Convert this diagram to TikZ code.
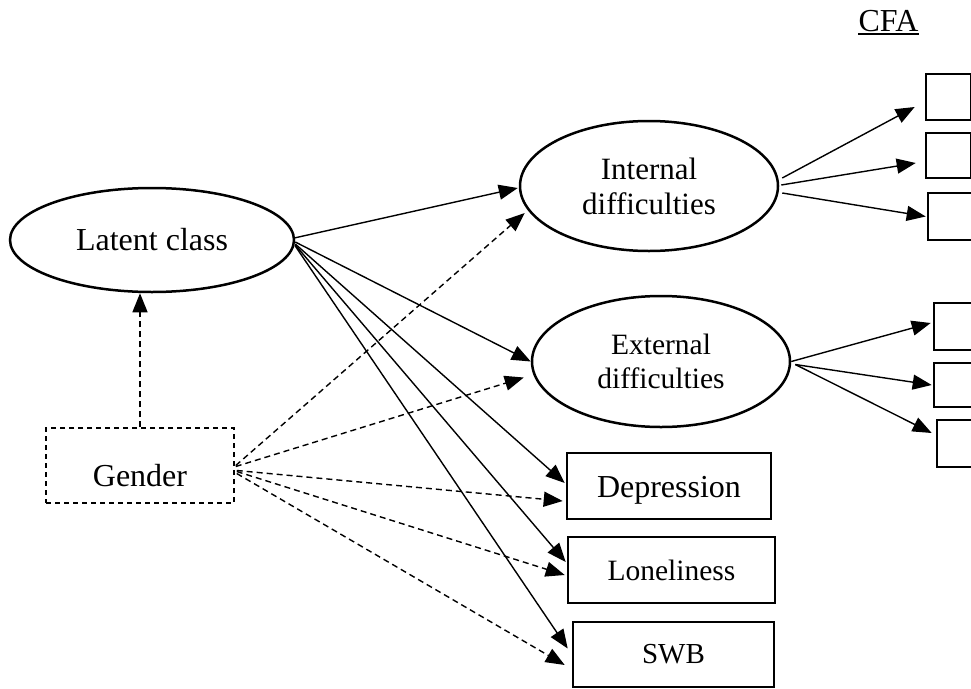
\documentclass[tikz,border=0pt]{standalone}
\usepackage{fontspec}
\setmainfont{Liberation Serif}
\usetikzlibrary{arrows.meta,shapes.geometric,calc}

\begin{document}
\begin{tikzpicture}[x=1pt,y=-1pt,
  latent/.style={ellipse,draw,line width=2.5pt,inner sep=0pt,align=center},
  observed/.style={rectangle,draw,line width=2.6pt,inner sep=0pt},
  item/.style={rectangle,draw,line width=2.6pt,inner sep=0pt,minimum width=45pt},
  regpath/.style={line width=1.4pt,-{Triangle[length=19pt,width=15pt]}},
  covpath/.style={regpath,dash pattern=on 6pt off 4pt},
]
\useasboundingbox (0,0) rectangle (971,688);

% latent variables
\node[latent,minimum width=284pt,minimum height=104pt,
      font=\fontsize{32}{35}\selectfont] (lat) at (152,240) {Latent class};
\node[latent,minimum width=258pt,minimum height=130pt,
      font=\fontsize{31}{35}\selectfont] (int) at (649,186) {Internal\\difficulties};
\node[latent,minimum width=258pt,minimum height=131pt,
      font=\fontsize{29.5}{34}\selectfont] (ext) at (661,361.5) {External\\difficulties};

% covariate
\node[draw,line width=1.5pt,dash pattern=on 5pt off 4pt,inner sep=0pt,
      minimum width=188pt,minimum height=75pt,text height=41pt,text depth=0pt,
      font=\fontsize{32}{35}\selectfont] (gen) at (140,465.5) {Gender};

% distal outcomes
\node[observed,minimum width=204pt,minimum height=66pt,text height=22pt,text depth=0pt,
      font=\fontsize{32}{36}\selectfont] (dep) at (669,486) {Depression};
\node[observed,minimum width=207pt,minimum height=66pt,
      font=\fontsize{29.5}{34}\selectfont] (lon) at (671.5,570) {Loneliness};
\node[observed,minimum width=201pt,minimum height=65pt,
      font=\fontsize{29}{34}\selectfont] (swb) at (673.5,654.5) {SWB};

% measurement model heading and indicators
\node[font=\fontsize{32}{35}\selectfont,inner sep=0pt] (cfa) at (888.5,21) {CFA};
\draw[line width=2pt] ($(cfa.base west)+(0,2.3)$) -- ($(cfa.base east)+(0,2.3)$);
\node[item,minimum height=46pt] (c1) at (948.5,97) {};
\node[item,minimum height=45pt] (c2) at (948.5,155.5) {};
\node[item,minimum height=47pt] (c3) at (950.5,216.5) {};
\node[item,minimum height=47pt] (c4) at (956.5,326.5) {};
\node[item,minimum height=44pt] (c5) at (956.5,385) {};
\node[item,minimum height=47pt] (c6) at (959.5,443.5) {};

% structural paths from the latent class
\draw[regpath] ($(lat.east)+(-1,-2)$) -- ($(int.west)+(-1,2)$);
\draw[regpath] ($(lat.east)+(0,2)$) -- (ext.west);
\draw[regpath] ($(lat.east)+(0,4)$) -- ($(dep.west)+(-1,-3)$);
\draw[regpath] ($(lat.east)+(0,5)$) -- ($(lon.west)+(-1,-8)$);
\draw[regpath] ($(lat.east)+(0,6)$) -- ($(swb.west)+(-4,-6)$);

% covariate effects
\draw[covpath] (gen.north) -- (gen.north |- lat.south);
\draw[covpath] ($(gen.east)+(1,0)$) -- ($(int.west)+(6,27)$);
\draw[covpath] ($(gen.east)+(1,1)$) -- ($(ext.west)+(-7,16)$);
\draw[covpath] ($(gen.east)+(2,5)$) -- ($(dep.west)+(-3,15)$);
\draw[covpath] ($(gen.east)+(2,6)$) -- ($(lon.west)+(-2,5)$);
\draw[covpath] ($(gen.east)+(2,8)$) -- ($(swb.west)+(-7,10.5)$);

% factor loadings
\draw[regpath] ($(int.east)+(3,-8)$) -- ($(c1.west)+(-10,10)$);
\draw[regpath] ($(int.east)+(2,-1)$) -- ($(c2.west)+(-9,7.5)$);
\draw[regpath] ($(int.east)+(3,7)$) -- ($(c3.west)+(-1,0)$);
\draw[regpath] (ext.east) -- ($(c4.west)+(-2,-3.5)$);
\draw[regpath] ($(ext.east)+(4,3)$) -- ($(c5.west)+(-1,0)$);
\draw[regpath] ($(ext.east)+(4,3)$) -- ($(c6.west)+(-4,-10.5)$);
\end{tikzpicture}
\end{document}
